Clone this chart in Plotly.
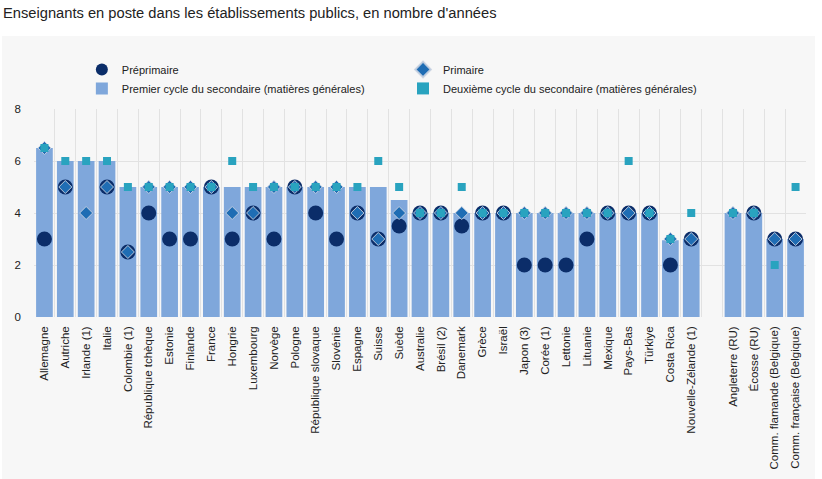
import plotly.graph_objects as go

countries = ["Allemagne", "Autriche", "Irlande (1)", "Italie", "Colombie (1)", "République tchèque",
             "Estonie", "Finlande", "France", "Hongrie", "Luxembourg", "Norvège", "Pologne",
             "République slovaque", "Slovénie", "Espagne", "Suisse", "Suède", "Australie",
             "Brésil (2)", "Danemark", "Grèce", "Israël", "Japon (3)", "Corée (1)", "Lettonie",
             "Lituanie", "Mexique", "Pays-Bas", "Türkiye", "Costa Rica", "Nouvelle-Zélande (1)",
             "", "Angleterre (RU)", "Écosse (RU)", "Comm. flamande (Belgique)",
             "Comm. française (Belgique)"]

lower_secondary = [6.5, 6, 6, 6, 5, 5, 5, 5, 5, 5, 5, 5, 5, 5, 5, 5, 5, 4.5, 4, 4, 4, 4, 4, 4, 4, 4,
                   4, 4, 4, 4, 2.95, 3, None, 4, 4, 3, 3]
pre_primary = [3, 5, None, 5, 2.5, 4, 3, 3, 5, 3, 4, 3, 5, 4, 3, 4, 3, 3.5, 4, 4, 3.5, 4, 4, 2, 2, 2,
               3, 4, 4, 4, 2, 3, None, None, 4, 3, 3]
primary = [6.5, 5, 4, 5, 2.5, 5, 5, 5, 5, 4, 4, 5, 5, 5, 5, 4, 3, 4, 4, 4, 4, 4, 4, 4, 4, 4,
           4, 4, 4, 4, 3, 3, None, 4, 4, 3, 3]
upper_secondary = [6.5, 6, 6, 6, 5, 5, 5, 5, 5, 6, 5, 5, 5, 5, 5, 5, 6, 5, 4, 4, 5, 4, 4, 4, 4, 4,
                   4, 4, 6, 4, 3, 4, None, 4, 4, 2, 5]

y_ticks = [0, 2, 4, 6, 8]
title_text = "Enseignants en poste dans les établissements publics, en nombre d'années"

xs = list(range(len(countries)))
FONT = "Liberation Sans, Arial, sans-serif"
BG = "#f7f7f7"

fig = go.Figure()
fig.add_trace(go.Bar(x=xs, y=lower_secondary, name="Premier cycle du secondaire (matières générales)",
                     marker=dict(color="#7fa7db", line=dict(width=0)), width=0.8,
                     legend="legend", legendrank=2))
fig.add_trace(go.Scatter(x=xs, y=pre_primary, mode="markers", name="Préprimaire",
                         marker=dict(symbol="circle", size=15, color="#0b2d69",
                                     line=dict(width=0)), legend="legend", legendrank=1))
fig.add_trace(go.Scatter(x=xs, y=primary, mode="markers", name="Primaire",
                         marker=dict(symbol="diamond", size=10, color="#1f6db4",
                                     line=dict(width=1, color="rgba(200,210,225,0.9)")),
                         legend="legend2", legendrank=1))
fig.add_trace(go.Scatter(x=xs, y=upper_secondary, mode="markers",
                         name="Deuxième cycle du secondaire (matières générales)",
                         marker=dict(symbol="square", size=8, color="#29a3bf", line=dict(width=0)),
                         legend="legend2", legendrank=2))

fig.add_shape(type="rect", xref="paper", yref="paper", x0=-0.0415, x1=1.0117, y0=-0.78, y1=1.351,
              fillcolor=BG, line=dict(width=0), layer="below")

leg_common = dict(orientation="v", yanchor="top", xanchor="left", bgcolor="rgba(0,0,0,0)",
                  font=dict(size=11, color="#222"), traceorder="normal", itemsizing="constant",
                  tracegroupgap=0, itemwidth=30)

fig.update_layout(
    width=822, height=479,
    margin=dict(l=34, r=16, t=109, b=162, autoexpand=False),
    paper_bgcolor="white", plot_bgcolor=BG,
    font=dict(family=FONT, size=11, color="#222"),
    title=dict(text=title_text, x=0.0, xref="container", xanchor="left",
               y=1 - 13 / 479, yref="container", yanchor="middle", pad=dict(l=3),
               font=dict(family=FONT, size=14.7, color="#222")),
    barmode="overlay",
    showlegend=True,
    legend=dict(x=0.062, y=1.26, **leg_common),
    legend2=dict(x=0.478, y=1.26, **leg_common),
    xaxis=dict(range=[-0.5, len(countries) - 0.5], tickmode="array", tickvals=xs,
               ticktext=countries, tickangle=-90, showgrid=False, zeroline=False,
               ticks="", tickfont=dict(size=11.5, color="#222"), showline=False, automargin=False,
               ticklabelstandoff=6,
               minor=dict(tick0=0.5, dtick=1, showgrid=True, gridcolor="#e2e2e2", gridwidth=1)),
    yaxis=dict(range=[0, 8], tickvals=y_ticks, showgrid=True, gridcolor="#e2e2e2",
               zeroline=False, ticks="", tickfont=dict(size=11.5, color="#222"),
               ticklabelstandoff=12, automargin=False),
)

fig.write_html("out.html", config={"displayModeBar": False},
               post_script="document.body.style.margin='0px';")
